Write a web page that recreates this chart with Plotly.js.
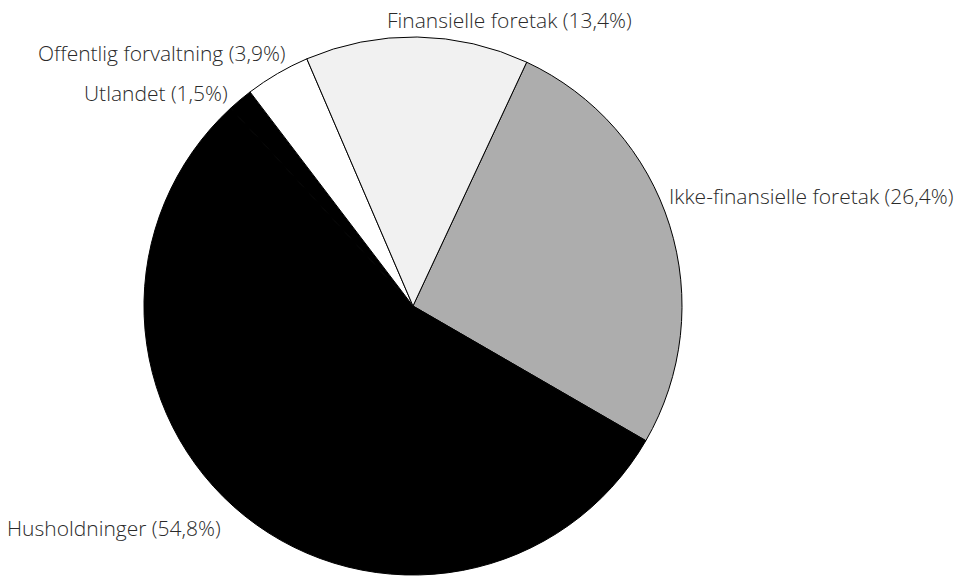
<!DOCTYPE html>
<html>
<head>
<meta charset="utf-8">
<script src="https://cdn.plot.ly/plotly-3.0.1.min.js"></script>
<style>html,body{margin:0;padding:0;background:#fff;}#chart{width:954px;height:576px;}</style>
</head>
<body>
<div id="chart"></div>
<script>
// Data (clockwise from the Finansielle/Ikke-finansielle boundary)
const sectors = ["Ikke-finansielle foretak", "Husholdninger", "Utlandet", "Offentlig forvaltning", "Finansielle foretak"];
const shares = [26.4, 54.8, 1.5, 3.9, 13.4];
const sectorColors = ["#adadad", "#000000", "#000000", "#ffffff", "#f1f1f1"];

// Label placement (paper coords) – layout only
const labelPos = [
  {x: 0.8496, y: 0.6597},
  {x: 0.1190, y: 0.0833},
  {x: 0.1635, y: 0.8390},
  {x: 0.1693, y: 0.9085},
  {x: 0.5340, y: 0.9653}
];

function fmt(v) { return v.toFixed(1).replace(".", ","); }

const annotations = sectors.map((s, i) => Object.assign({
  xref: "paper", yref: "paper",
  xanchor: "center", yanchor: "middle",
  text: s + " (" + fmt(shares[i]) + "%)",
  showarrow: false,
  font: {family: "Open Sans, sans-serif", size: 21, weight: 300, color: "#2a2a2a"}
}, labelPos[i]));

const trace = {
  type: "pie",
  labels: sectors,
  values: shares,
  sort: false,
  direction: "clockwise",
  rotation: 25,
  textinfo: "none",
  hoverinfo: "label+percent",
  marker: {colors: sectorColors, line: {color: "#000", width: 1}},
  domain: {x: [0.1509, 0.7149], y: [0.0017, 0.9358]}
};

Plotly.newPlot("chart", [trace], {
  width: 954, height: 576,
  margin: {l: 0, r: 0, t: 0, b: 0},
  showlegend: false,
  paper_bgcolor: "#fff",
  annotations: annotations
}, {displayModeBar: false, staticPlot: true});
</script>
</body>
</html>
